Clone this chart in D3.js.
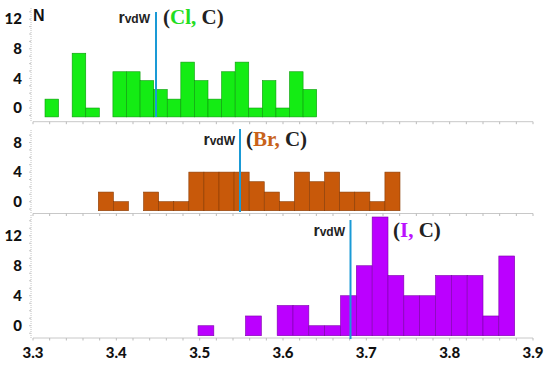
<!DOCTYPE html>
<html>
<head>
<meta charset="utf-8">
<script src="https://cdn.jsdelivr.net/npm/d3@7"></script>
<style>
  body { margin: 0; background: #fff; }
  svg { display: block; }
</style>
</head>
<body>
<div id="chart"></div>
<script>
// histograms of X...C contact distances, three stacked panels

// x axis
const xTicks = [3.3, 3.4, 3.5, 3.6, 3.7, 3.8, 3.9];

// Cl...C panel (bins start at clStart, width clWidth); null = empty bin
const clStart = 3.3144, clWidth = 0.0163;
const clCounts = [1.2, null, 7.4, 0, null, 4.9, 4.9, 3.7, 2.5, 1.2,
                  6.2, 3.7, 1.2, 4.9, 6.2, 0, 3.7, 0, 4.9, 2.5];
const clTicks = [0, 4, 8, 12];
const clRvdw = 3.4476;

// Br...C panel
const brStart = 3.3784, brWidth = 0.0181;
const brCounts = [1.3, 0, null, 1.3, 0, 0, 4, 4, 4, 4,
                  2.7, 1.3, 0, 4, 2.7, 4, 1.3, 1.3, 0, 4];
const brTicks = [0, 4, 8];
const brRvdw = 3.5484;

// I...C panel
const iStart = 3.498, iWidth = 0.019;
const iCounts = [0, null, null, 1.3, null, 2.7, 2.7, 0, 0, 4,
                 8, 14.5, 6.7, 4, 4, 6.7, 6.7, 6.7, 1.3, 9.3];
const iTicks = [0, 4, 8, 12];
const iRvdw = 3.681;

const width = 550, height = 365;

const svg = d3.select("#chart").append("svg")
    .attr("width", width)
    .attr("height", height);

const x = d3.scaleLinear().domain([3.3, 3.9]).range([33, 533]);

// panel layout (pixels)
const panels = [
    {name: "Cl", start: clStart, w: clWidth, counts: clCounts, ticks: clTicks, rvdw: clRvdw,
     domain: [-1.2, 13.2], range: [116.9, 10.3], axisY: 121.7, axisTop: 8,
     fill: "#14ec14", stroke: "#0b9a0b", labelColor: "#22dd22",
     rLine: [12, 117], labelY: 17, rRight: 150, labelLeft: 163},
    {name: "Br", start: brStart, w: brWidth, counts: brCounts, ticks: brTicks, rvdw: brRvdw,
     domain: [-1.22, 9.6], range: [210.7, 130.7], axisY: 213.5, axisTop: 130,
     fill: "#c8590a", stroke: "#8a3c05", labelColor: "#c8621a",
     rLine: [129, 212], labelY: 139, rRight: 235, labelLeft: 246},
    {name: "I", start: iStart, w: iWidth, counts: iCounts, ticks: iTicks, rvdw: iRvdw,
     domain: [-1.33, 14.9], range: [335.7, 214], axisY: 338, axisTop: 215,
     fill: "#bb00ff", stroke: "#7c00aa", labelColor: "#bb11ff",
     rLine: [220, 339], labelY: 230, rRight: 345, labelLeft: 393}
];

panels.forEach(p => {
    const y = d3.scaleLinear().domain(p.domain).range(p.range);
    const g = svg.append("g");

    // bottom axis line with small ticks
    g.append("line")
        .attr("x1", x(3.3)).attr("x2", x(3.9))
        .attr("y1", p.axisY).attr("y2", p.axisY)
        .attr("stroke", "#c8c8c8").attr("stroke-width", 1);
    g.selectAll(".xt")
        .data(d3.range(0, 31).map(i => 3.3 + i * 0.02))
        .enter().append("line")
        .attr("x1", d => x(d)).attr("x2", d => x(d))
        .attr("y1", p.axisY).attr("y2", p.axisY + 2.5)
        .attr("stroke", "#bbb");

    // left axis: dotted line + minor ticks
    g.append("line")
        .attr("x1", 31).attr("x2", 31)
        .attr("y1", p.axisTop).attr("y2", p.axisY)
        .attr("stroke", "#c0c0c0").attr("stroke-dasharray", "1,1");
    g.selectAll(".yt")
        .data(d3.range(Math.ceil(p.domain[0]), Math.floor(p.domain[1]) + 1))
        .enter().append("line")
        .attr("x1", 29).attr("x2", 31)
        .attr("y1", d => y(d)).attr("y2", d => y(d))
        .attr("stroke", "#c8c8c8");

    // tick labels
    g.selectAll(".yl")
        .data(p.ticks)
        .enter().append("text")
        .attr("x", 22)
        .attr("y", d => y(d))
        .attr("dy", "0.35em")
        .attr("text-anchor", "end")
        .style("font-family", "Lato, 'Liberation Sans', sans-serif")
        .style("font-weight", "900")
        .style("font-size", "15px")
        .attr("fill", "#111")
        .text(d => d);

    // bars
    const bins = p.counts.map((c, i) => ({x0: p.start + i * p.w, x1: p.start + (i + 1) * p.w, c: c}))
        .filter(d => d.c !== null);
    g.selectAll("rect")
        .data(bins)
        .enter().append("rect")
        .attr("x", d => x(d.x0))
        .attr("width", d => x(d.x1) - x(d.x0))
        .attr("y", d => y(d.c))
        .attr("height", d => y(p.domain[0]) - y(d.c))
        .attr("fill", p.fill)
        .attr("stroke", p.stroke)
        .attr("stroke-width", 0.6);

    // vdW radius line
    g.append("line")
        .attr("x1", x(p.rvdw)).attr("x2", x(p.rvdw))
        .attr("y1", p.rLine[0]).attr("y2", p.rLine[1])
        .attr("stroke", "#1a9ad6").attr("stroke-width", 2);

    // r_vdW label
    const rt = g.append("text")
        .attr("x", p.rRight)
        .attr("y", p.labelY)
        .attr("dy", "0.35em")
        .attr("text-anchor", "end")
        .style("font-family", "'Liberation Sans', Arial, sans-serif")
        .style("font-weight", "bold")
        .attr("fill", "#222");
    rt.append("tspan").style("font-size", "16px").text("r");
    rt.append("tspan").style("font-size", "12px").text("vdW");

    // (X, C) label
    const lt = g.append("text")
        .attr("x", p.labelLeft)
        .attr("y", p.labelY)
        .attr("dy", "0.35em")
        .style("font-family", "'Liberation Serif', 'Times New Roman', serif")
        .style("font-weight", "bold")
        .style("font-size", "21px")
        .attr("fill", "#222");
    lt.append("tspan").text("(");
    lt.append("tspan").attr("fill", p.labelColor).text(p.name + ",");
    lt.append("tspan").text(" C)");
});

// "N" axis title
svg.append("text")
    .attr("x", 33).attr("y", 15)
    .attr("dy", "0.35em")
    .style("font-family", "'Liberation Sans', Arial, sans-serif")
    .style("font-weight", "bold")
    .style("font-size", "16px")
    .attr("fill", "#111")
    .text("N");

// x tick labels
svg.selectAll(".xl")
    .data(xTicks)
    .enter().append("text")
    .attr("x", d => x(d))
    .attr("y", 353)
    .attr("dy", "0.35em")
    .attr("text-anchor", "middle")
    .style("font-family", "Lato, 'Liberation Sans', sans-serif")
    .style("font-weight", "900")
    .style("font-size", "15px")
    .attr("fill", "#111")
    .text(d => d.toFixed(1));
</script>
</body>
</html>
